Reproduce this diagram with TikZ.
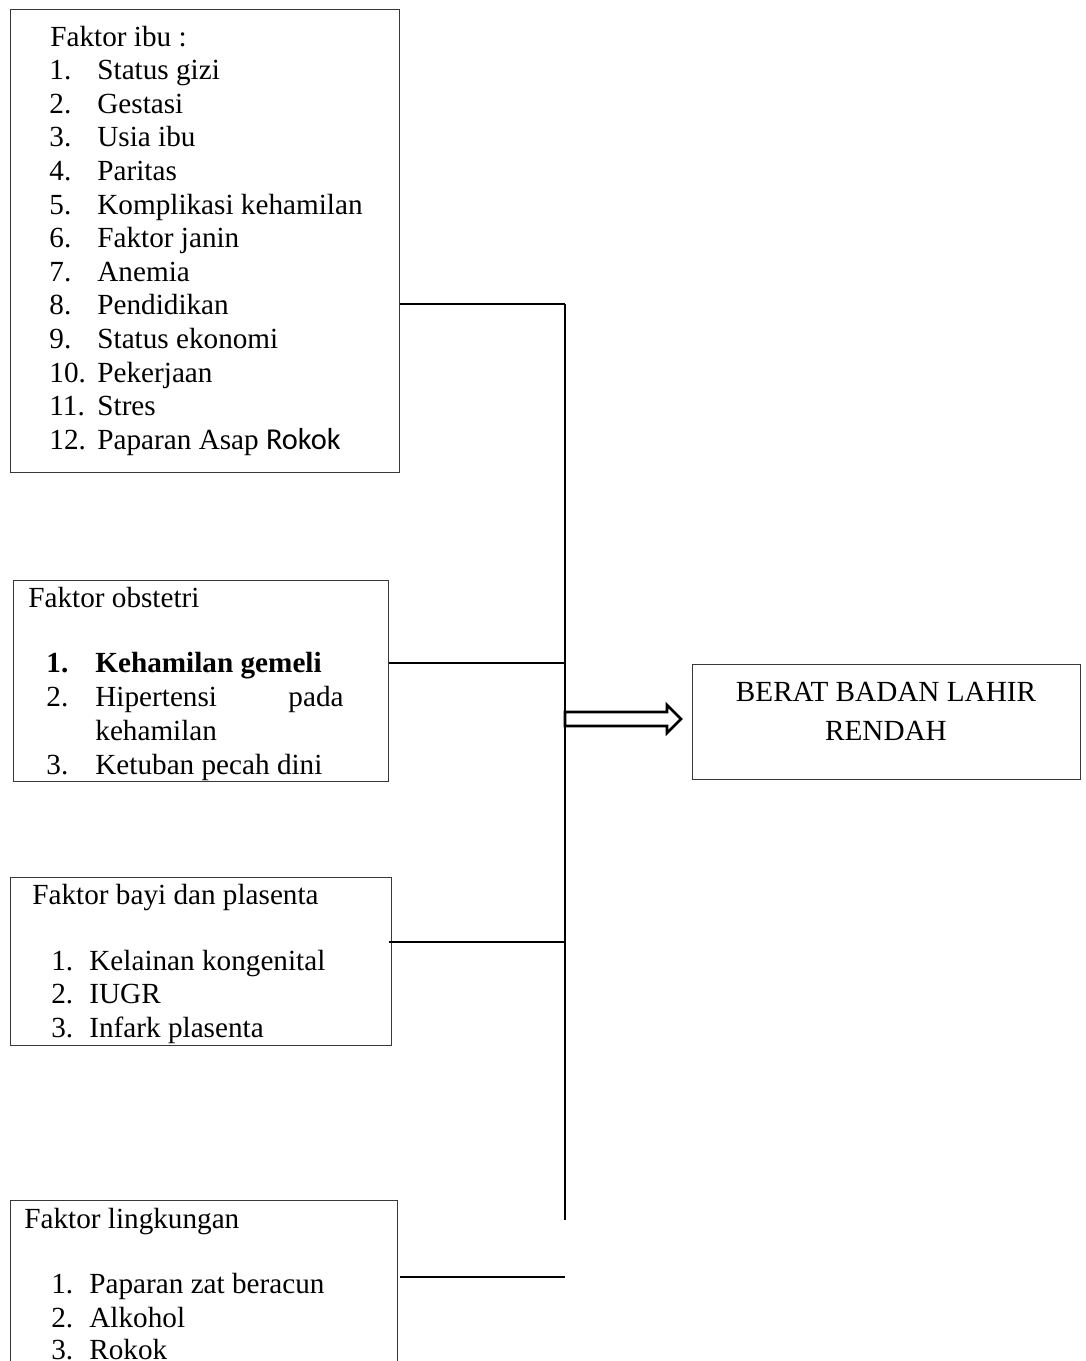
\documentclass[tikz,border=0pt]{standalone}
\usepackage{fontspec}
\setmainfont{Liberation Serif}
\newfontfamily\rkfont{Carlito}
\def\px{0.5pt}
\tikzset{
  boxed/.style={draw=black!78, line width=1.4*\px, anchor=north west, inner sep=0pt, fill=none},
  conn/.style={draw=black, line width=1.5*\px},
  txt/.style={anchor=base west, inner sep=0pt},
  ctxt/.style={anchor=base, inner sep=0pt},
  hollowarrow/.style={draw=black, line width=2.6*\px, line join=miter, fill=white},
}
\begin{document}
\begin{tikzpicture}[x=0.5pt, y=-0.5pt, font=\fontsize{14.6pt}{17pt}\selectfont]
\useasboundingbox (0,0) rectangle (1086,1361);
\clip (0,0) rectangle (1086,1361);

% boxes
\node[boxed, minimum width=389*\px, minimum height=463*\px] (ibu) at (10,9) {};
\node[boxed, minimum width=375*\px, minimum height=201*\px] (obs) at (13,580) {};
\node[boxed, minimum width=381*\px, minimum height=168*\px] (bayi) at (10,877) {};
\node[boxed, minimum width=387*\px, minimum height=220*\px] (ling) at (10,1200) {};
\node[boxed, minimum width=388*\px, minimum height=115*\px] (bblr) at (692,664) {};

% Faktor ibu
\node[txt] (ibuh) at (50,46) {Faktor ibu :};
\foreach \n/\t [count=\k] in {1/Status gizi, 2/Gestasi, 3/Usia ibu, 4/Paritas,
  5/Komplikasi kehamilan, 6/Faktor janin, 7/Anemia, 8/Pendidikan,
  9/Status ekonomi, 10/Pekerjaan, 11/Stres, 12/{Paparan Asap {\rkfont\fontsize{15.2pt}{17pt}\selectfont Rokok}}}{
  \node[txt] (ibun\k) at (49, 46+33.6*\k) {\n.};
  \node[txt] (ibut\k) at (97, 46+33.6*\k) {\t};
}

% Faktor obstetri
\node[txt] (obsh) at (28,607) {Faktor obstetri};
\node[txt] (obsn1) at (46,672) {\bfseries 1.};
\node[txt] (obst1) at (95,672) {\bfseries Kehamilan gemeli};
\node[txt] (obsn2) at (46,706) {2.};
\node[txt] (obst2) at (95,706) {Hipertensi};
\node[anchor=base east, inner sep=0pt] (obst2b) at (344,706) {pada};
\node[txt] (obst2c) at (95,740) {kehamilan};
\node[txt] (obsn3) at (46,774) {3.};
\node[txt] (obst3) at (95,774) {Ketuban pecah dini};

% Faktor bayi dan plasenta
\node[txt] (bayih) at (32,904) {Faktor bayi dan plasenta};
\foreach \n/\t/\y in {1/Kelainan kongenital/970, 2/IUGR/1003, 3/Infark plasenta/1037}{
  \node[txt] (bayin\n) at (51,\y) {\n.};
  \node[txt] (bayit\n) at (89,\y) {\t};
}

% Faktor lingkungan
\node[txt] (lingh) at (24,1228) {Faktor lingkungan};
\foreach \n/\t/\y in {1/Paparan zat beracun/1293, 2/Alkohol/1327, 3/Rokok/1359}{
  \node[txt] (lingn\n) at (51,\y) {\n.};
  \node[txt] (lingt\n) at (89,\y) {\t};
}

% Outcome
\node[ctxt] (bblr1) at (886,701) {BERAT BADAN LAHIR};
\node[ctxt] (bblr2) at (886,740) {RENDAH};

% bus and connectors
\coordinate (bus1) at (565,304);
\coordinate (bus2) at (565,663);
\coordinate (bus3) at (565,942);
\coordinate (bus4) at (565,1277);
\coordinate (busend) at (565,1220);
\draw[conn] (ibu.east |- bus1) -- (bus1);
\draw[conn] (obs.east |- bus2) -- (bus2);
\draw[conn] ([xshift=-3*\px]bayi.east |- bus3) -- (bus3);
\draw[conn] ([xshift=2*\px]ling.east |- bus4) -- (bus4);

% hollow arrow from bus to outcome box
\coordinate (arrS) at (565,719);
\draw[hollowarrow] ([yshift=7*\px]arrS) -- ++(102,0) -- ++(0,-7) -- ([xshift=-11*\px]bblr.west |- arrS)
   -- ([xshift=-25*\px, yshift=-14*\px]bblr.west |- arrS) -- ++(0,-7) -- ([yshift=-7*\px]arrS) -- cycle;
\draw[conn] (bus1) -- (busend);
\end{tikzpicture}
\end{document}
